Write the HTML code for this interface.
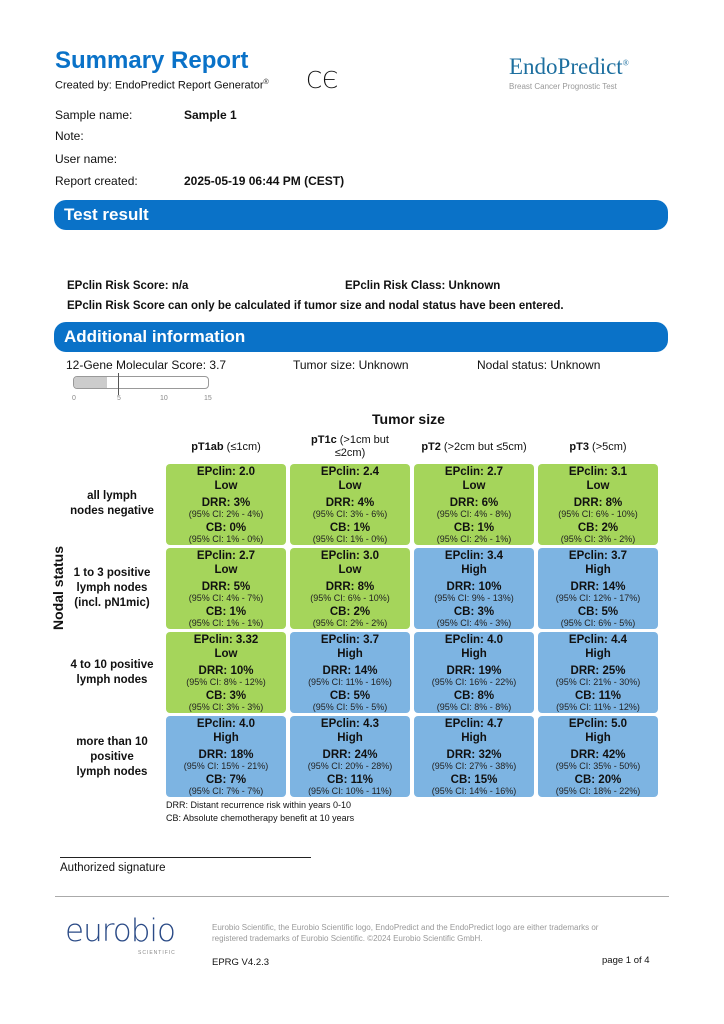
<!DOCTYPE html>
<html><head><meta charset="utf-8"><style>
body{margin:0;width:724px;height:1024px;background:#fff;font-family:"Liberation Sans",sans-serif;color:#111;position:relative;overflow:hidden}
.a{position:absolute;white-space:nowrap}
.bar{position:absolute;left:54px;width:614px;height:30px;background:#0a72c8;border-radius:12px;color:#fff;font-weight:bold;font-size:17px;line-height:30px;padding-left:10px;box-sizing:border-box}
.c{position:absolute;width:120px;height:81px;border-radius:4px;text-align:center;font-size:11.5px;font-weight:bold;line-height:14px}
.g{background:#a5d55b}.b{background:#7db4e2}
.c .ci{font-weight:normal;font-size:9px;line-height:9px;color:#222}
.c .e{padding-top:1px}
.rl{position:absolute;text-align:center;font-weight:bold;font-size:11.5px;line-height:15px;width:100px;left:62px}
.ch{position:absolute;text-align:center;font-size:11px;line-height:13px;width:120px}
</style></head><body>
<div class="a" style="left:55px;top:47px;font-size:24px;font-weight:bold;color:#0a72c8">Summary Report</div>
<div class="a" style="left:55px;top:79px;font-size:11px">Created by: EndoPredict Report Generator<sup style="font-size:7px">®</sup></div>
<div class="a" style="left:306px;top:68px;font-size:23px;font-family:'DejaVu Sans',sans-serif;font-weight:300">CЄ</div>
<div class="a" style="left:509px;top:54px;font-family:'Liberation Serif',serif;font-size:23px;color:#1d6f9f">EndoPredict<sup style="font-size:8px">®</sup></div>
<div class="a" style="left:509px;top:82px;font-size:8px;color:#999">Breast Cancer Prognostic Test</div>
<div class="a" style="left:55px;top:108px;font-size:12px">Sample name:</div><div class="a" style="left:184px;top:108px;font-size:12px;font-weight:bold">Sample 1</div>
<div class="a" style="left:55px;top:129px;font-size:12px">Note:</div>
<div class="a" style="left:55px;top:152px;font-size:12px">User name:</div>
<div class="a" style="left:55px;top:174px;font-size:12px">Report created:</div><div class="a" style="left:184px;top:174px;font-size:12px;font-weight:bold">2025-05-19 06:44 PM (CEST)</div>
<div class="bar" style="top:200px">Test result</div>
<div class="a" style="left:67px;top:280px;font-size:11.5px;font-weight:bold">EPclin Risk Score: n/a</div>
<div class="a" style="left:345px;top:280px;font-size:11.5px;font-weight:bold">EPclin Risk Class: Unknown</div>
<div class="a" style="left:67px;top:300px;font-size:11.5px;font-weight:bold">EPclin Risk Score can only be calculated if tumor size and nodal status have been entered.</div>
<div class="bar" style="top:322px">Additional information</div>
<div class="a" style="left:66px;top:358px;font-size:12px">12-Gene Molecular Score: 3.7</div>
<div class="a" style="left:293px;top:358px;font-size:12px">Tumor size: Unknown</div>
<div class="a" style="left:477px;top:358px;font-size:12px">Nodal status: Unknown</div>
<div class="a" style="left:73px;top:376px;width:134px;height:11px;border:1px solid #999;border-radius:4px;overflow:hidden"><div style="width:33px;height:11px;background:#ccc"></div></div>
<div class="a" style="left:118px;top:373px;width:1px;height:22px;background:#555"></div>
<div class="a" style="left:72px;top:395px;font-size:7px;color:#888">0</div>
<div class="a" style="left:117px;top:395px;font-size:7px;color:#888">5</div>
<div class="a" style="left:160px;top:395px;font-size:7px;color:#888">10</div>
<div class="a" style="left:204px;top:395px;font-size:7px;color:#888">15</div>
<div class="a" style="left:372px;top:411px;font-size:14px;font-weight:bold">Tumor size</div>
<div class="ch" style="left:166px;top:441px"><b>pT1ab</b> (≤1cm)</div>
<div class="ch" style="left:290px;top:434px"><b>pT1c</b> (&gt;1cm but<br>≤2cm)</div>
<div class="ch" style="left:410px;top:441px;width:128px"><b>pT2</b> (&gt;2cm but ≤5cm)</div>
<div class="ch" style="left:538px;top:441px"><b>pT3</b> (&gt;5cm)</div>
<div class="a" style="left:50px;top:630px;transform:rotate(-90deg);transform-origin:left top;font-size:14px;font-weight:bold">Nodal status</div>
<div class="rl" style="top:489px">all lymph<br>nodes negative</div>
<div class="rl" style="top:566px">1 to 3 positive<br>lymph nodes<br>(incl. pN1mic)</div>
<div class="rl" style="top:658px">4 to 10 positive<br>lymph nodes</div>
<div class="rl" style="top:735px">more than 10<br>positive<br>lymph nodes</div>
<div id="grid"></div>
<div class="a" style="left:166px;top:800px;font-size:9px">DRR: Distant recurrence risk within years 0-10</div>
<div class="a" style="left:166px;top:813px;font-size:9px">CB: Absolute chemotherapy benefit at 10 years</div>
<div class="a" style="left:60px;top:857px;width:251px;height:1px;background:#222"></div>
<div class="a" style="left:60px;top:862px;font-size:11.5px">Authorized signature</div>
<div class="a" style="left:55px;top:896px;width:614px;height:1px;background:#aaa"></div>
<div class="a" style="left:65px;top:913px;font-size:31px;color:#2a4a86;font-family:'DejaVu Sans',sans-serif;font-weight:200;letter-spacing:-1px">eurobio</div>
<div class="a" style="left:138px;top:950px;font-size:5px;color:#888;letter-spacing:1px">SCIENTIFIC</div>
<div class="a" style="left:212px;top:922px;font-size:8px;color:#999;line-height:11px">Eurobio Scientific, the Eurobio Scientific logo, EndoPredict and the EndoPredict logo are either trademarks or<br>registered trademarks of Eurobio Scientific. ©2024 Eurobio Scientific GmbH.</div>
<div class="a" style="left:212px;top:957px;font-size:9.5px">EPRG V4.2.3</div>
<div class="a" style="left:602px;top:955px;font-size:9.5px">page 1 of 4</div>
<script>
var d=[
["g","2.0","Low","3%","2% - 4%","0%","1% - 0%"],["g","2.4","Low","4%","3% - 6%","1%","1% - 0%"],["g","2.7","Low","6%","4% - 8%","1%","2% - 1%"],["g","3.1","Low","8%","6% - 10%","2%","3% - 2%"],
["g","2.7","Low","5%","4% - 7%","1%","1% - 1%"],["g","3.0","Low","8%","6% - 10%","2%","2% - 2%"],["b","3.4","High","10%","9% - 13%","3%","4% - 3%"],["b","3.7","High","14%","12% - 17%","5%","6% - 5%"],
["g","3.32","Low","10%","8% - 12%","3%","3% - 3%"],["b","3.7","High","14%","11% - 16%","5%","5% - 5%"],["b","4.0","High","19%","16% - 22%","8%","8% - 8%"],["b","4.4","High","25%","21% - 30%","11%","11% - 12%"],
["b","4.0","High","18%","15% - 21%","7%","7% - 7%"],["b","4.3","High","24%","20% - 28%","11%","10% - 11%"],["b","4.7","High","32%","27% - 38%","15%","14% - 16%"],["b","5.0","High","42%","35% - 50%","20%","18% - 22%"]];
var h="",xs=[166,290,414,538],ys=[464,548,632,716];
d.forEach(function(r,i){h+='<div class="c '+r[0]+'" style="left:'+xs[i%4]+'px;top:'+ys[Math.floor(i/4)]+'px"><div class="e">EPclin: '+r[1]+'</div><div>'+r[2]+'</div><div style="margin-top:3px">DRR: '+r[3]+'</div><div class="ci">(95% CI: '+r[4]+')</div><div style="margin-top:2px">CB: '+r[5]+'</div><div class="ci">(95% CI: '+r[6]+')</div></div>'});
document.getElementById("grid").innerHTML=h;
</script>
</body></html>
